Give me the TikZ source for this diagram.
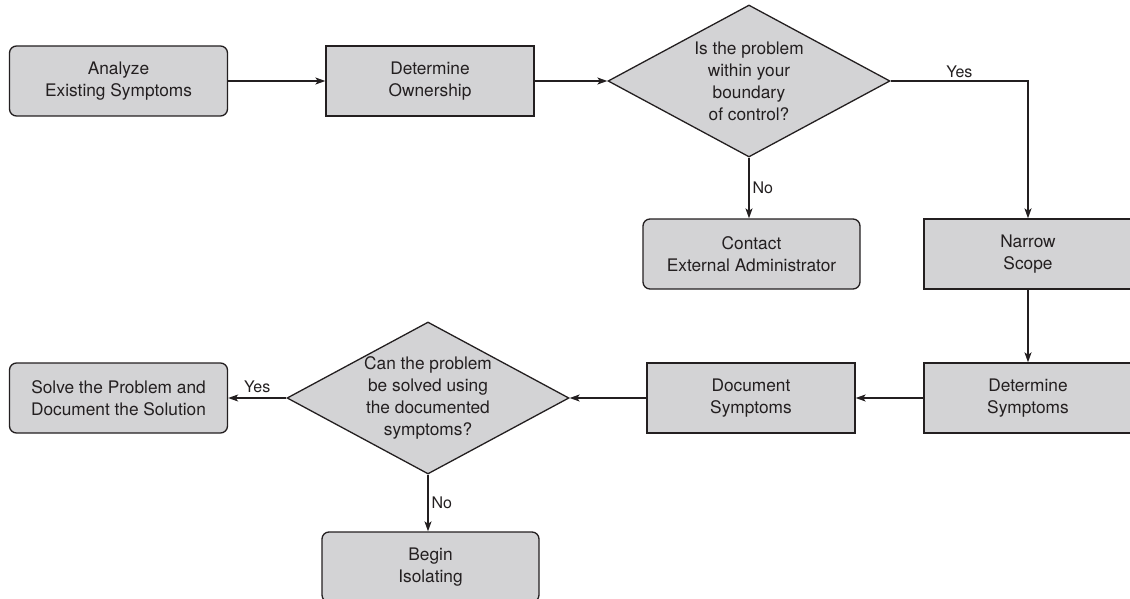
\documentclass[tikz,border=0pt]{standalone}
\usepackage{fontspec}
\setmainfont{TeX Gyre Heros}
\usetikzlibrary{shapes.geometric,arrows.meta}
\definecolor{boxfill}{RGB}{211,211,213}
\definecolor{ink}{RGB}{35,31,32}
\begin{document}
\begin{tikzpicture}[x=1pt,y=-1pt,
  every node/.style={text=ink, align=center, font=\fontsize{17.3}{22}\selectfont},
  base/.style={draw=ink, fill=boxfill, line width=1.3pt, inner sep=0pt},
  procbox/.style={base, rectangle, minimum width=208pt, minimum height=70pt},
  termbox/.style={base, rectangle, rounded corners=7pt, minimum width=218pt, minimum height=70pt},
  decision/.style={base, diamond, aspect=1.855, minimum width=282pt, minimum height=152pt},
  flow/.style={draw=ink, line width=1.3pt, -{Stealth[length=10pt,width=7pt,inset=2.5pt]}},
  lbl/.style={fill=none, draw=none, font=\fontsize{16}{19}\selectfont, inner sep=3pt}]
  \useasboundingbox (0,0) rectangle (1130,599);
  \clip (0,0) rectangle (1130,599);

  % top row
  \node[termbox] (analyze) at (118.5,81) {Analyze\\Existing Symptoms};
  \node[procbox] (owner) at (430,81) {Determine\\Ownership};
  \node[decision] (q1) at (749,81) {Is the problem\\within your\\boundary\\of control?};

  % second row
  \node[termbox, minimum width=217pt] (contact) at (751.5,254) {Contact\\External Administrator};
  \node[procbox] (narrow) at (1028,254) {Narrow\\Scope};

  % third row
  \node[procbox] (detsym) at (1028,398) {Determine\\Symptoms};
  \node[procbox] (docsym) at (751,398) {Document\\Symptoms};
  \node[decision] (q2) at (428,398) {Can the problem\\be solved using\\the documented\\symptoms?};
  \node[termbox] (solve) at (118.5,398) {Solve the Problem and\\Document the Solution};

  % bottom
  \node[termbox, minimum width=217pt] (isolate) at (430.5,567) {Begin\\Isolating};

  % connectors
  \draw[flow] (analyze.east) -- (owner.west);
  \draw[flow] (owner.east) -- (q1.west);
  \draw[flow] (q1.east) -| node[lbl, pos=0.25, above] {Yes} (narrow.north);
  \draw[flow] (q1.south) -- node[lbl, right] {No} (q1.south |- contact.north);
  \draw[flow] (narrow.south) -- (detsym.north);
  \draw[flow] (detsym.west) -- (docsym.east);
  \draw[flow] (docsym.west) -- (q2.east);
  \draw[flow] (q2.west) -- node[lbl, above, inner sep=5pt] {Yes} (solve.east);
  \draw[flow] (q2.south) -- node[lbl, right] {No} (q2.south |- isolate.north);
\end{tikzpicture}
\end{document}
